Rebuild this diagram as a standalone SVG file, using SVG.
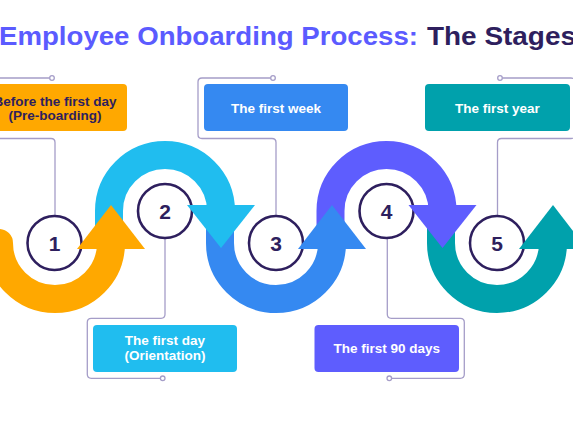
<svg xmlns="http://www.w3.org/2000/svg" width="573" height="423" viewBox="0 0 573 423">
<defs>
<style>
.title{font-family:"Liberation Sans",Arial,sans-serif;font-weight:700;font-size:25px}
.lbl{font-family:"Liberation Sans",Arial,sans-serif;font-weight:700;font-size:13.5px;text-anchor:middle}
.num{font-family:"Liberation Sans",Arial,sans-serif;font-weight:700;font-size:21px;text-anchor:middle;fill:#2E1F5E}
.conn{fill:none;stroke:#A59DC8;stroke-width:1.3}
.dot{fill:#fff;stroke:#A59DC8;stroke-width:1.3}
.ring{fill:#fff;stroke:#2E1F5E;stroke-width:2.6}
.band{fill:none;stroke-width:28}
</style>
</defs>
<rect width="573" height="423" fill="#fff"/>
<text class="title" y="45"><tspan x="-1" fill="#5B5BFF" textLength="419" lengthAdjust="spacingAndGlyphs">Employee Onboarding Process:</tspan><tspan x="427" fill="#2E1F5E" textLength="149" lengthAdjust="spacingAndGlyphs">The Stages</tspan></text>

<g id="connectors">
<path class="conn" d="M49.7 78 H-19 Q-23 78 -23 82 V134.5 Q-23 138.5 -19 138.5 H51 Q55 138.5 55 142.5 V230"/>
<circle class="dot" cx="52" cy="78" r="2.3"/>
<path class="conn" d="M270.7 78 H202 Q198 78 198 82 V134.5 Q198 138.5 202 138.5 H272 Q276 138.5 276 142.5 V230"/>
<circle class="dot" cx="273" cy="78" r="2.3"/>
<path class="conn" d="M502.3 78 H571 Q575 78 575 82 V134.5 Q575 138.5 571 138.5 H501.5 Q497.5 138.5 497.5 142.5 V230"/>
<circle class="dot" cx="500" cy="78" r="2.3"/>
<path class="conn" d="M165 225 V314.3 Q165 318.3 161 318.3 H91.3 Q87.3 318.3 87.3 322.3 V374.3 Q87.3 378.3 91.3 378.3 H160.4"/>
<circle class="dot" cx="162.7" cy="378.3" r="2.3"/>
<path class="conn" d="M387.3 225 V314.3 Q387.3 318.3 391.3 318.3 H460.3 Q464.3 318.3 464.3 322.3 V374.3 Q464.3 378.3 460.3 378.3 H391.6"/>
<circle class="dot" cx="389.3" cy="378.3" r="2.3"/>
</g>

<g id="box1">
<rect x="-17" y="84" width="144" height="47" rx="4" fill="#FFA800"/>
<text class="lbl" fill="#2E1F5E"><tspan x="55" y="105.5">Before the first day</tspan><tspan x="55" y="120">(Pre-boarding)</tspan></text>
</g>
<g id="box2">
<rect x="93" y="325" width="144" height="47" rx="4" fill="#20BDEF"/>
<text class="lbl" fill="#fff"><tspan x="165" y="345">The first day</tspan><tspan x="165" y="359.5">(Orientation)</tspan></text>
</g>
<g id="box3">
<rect x="204" y="84" width="144" height="47" rx="4" fill="#3589F1"/>
<text class="lbl" fill="#fff" x="276" y="112.5">The first week</text>
</g>
<g id="box4">
<rect x="314.5" y="325" width="144.5" height="47" rx="4" fill="#5E5DFE"/>
<text class="lbl" fill="#fff" x="386.7" y="353.3">The first 90 days</text>
</g>
<g id="box5">
<rect x="425" y="84" width="145" height="47" rx="4" fill="#00A1AC"/>
<text class="lbl" fill="#fff" x="497.5" y="112.5">The first year</text>
</g>

<g id="step1"><circle class="ring" cx="54.5" cy="243" r="27"/><text class="num" x="54.5" y="251">1</text></g>
<g id="step2"><circle class="ring" cx="165" cy="211" r="27"/><text class="num" x="165" y="219">2</text></g>
<g id="step3"><circle class="ring" cx="276" cy="243" r="27"/><text class="num" x="276" y="251">3</text></g>
<g id="step4"><circle class="ring" cx="386.5" cy="211" r="27"/><text class="num" x="386.5" y="219">4</text></g>
<g id="step5"><circle class="ring" cx="497" cy="243" r="27"/><text class="num" x="497" y="251">5</text></g>

<g id="wave">
<path class="band" stroke="#00A1AC" d="M441 205 V243 A56 56 0 0 0 553 243"/>
<polygon fill="#00A1AC" points="519,249 587,249 553,205"/>
<path class="band" stroke="#5E5DFE" d="M330.5 249 V211 A56 56 0 0 1 442.5 211"/>
<polygon fill="#5E5DFE" points="408.5,205 476.5,205 442.5,248"/>
<path class="band" stroke="#3589F1" d="M220 205 V243 A56 56 0 0 0 332 243"/>
<polygon fill="#3589F1" points="298,249 366,249 332,205"/>
<path class="band" stroke="#20BDEF" d="M109 249 V211 A56 56 0 0 1 221 211"/>
<polygon fill="#20BDEF" points="187,205 255,205 221,248"/>
<path class="band" stroke="#FFA800" stroke-linecap="round" d="M-1 243 A56 56 0 0 0 111 243"/>
<polygon fill="#FFA800" points="77,249 145,249 111,205"/>
</g>
</svg>
